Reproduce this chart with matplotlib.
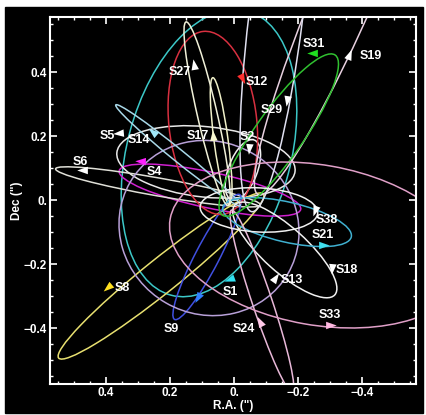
import numpy as np
import matplotlib
matplotlib.use("Agg")
import matplotlib.pyplot as plt
from matplotlib.patches import Ellipse, Rectangle
from matplotlib.path import Path
from matplotlib.markers import MarkerStyle
from matplotlib.transforms import Affine2D

plt.rcParams['font.family'] = ['Liberation Sans', 'DejaVu Sans']

# star names
names = ['S1', 'S2', 'S4', 'S5', 'S6', 'S8', 'S9', 'S12', 'S13', 'S14',
         'S17', 'S18', 'S19', 'S21', 'S24', 'S27', 'S29', 'S31', 'S33', 'S38']

# projected orbit ellipses (arcsec, angle in deg)
ell_ra = [0.078, -0.028, 0.075, 0.0875, 0.2375, 0.228, 0.084, 0.066, 0.078, 0.175,
          0.04, -0.159, -0.375, -0.166, -0.0875, 0.084, -0.131, -0.14, -0.2625, -0.078]
ell_dec = [0.147, 0.094, 0.031, 0.119, 0.041, -0.2375, -0.178, 0.241, -0.0875, 0.14,
           0.184, -0.156, 0.711, -0.069, -0.316, 0.27, 0.575, 0.203, -0.1406, -0.031]
ell_a = [0.46, 0.10, 0.29, 0.28, 0.325, 0.41, 0.22, 0.2875, 0.285, 0.25,
         0.20, 0.21, 0.756, 0.206, 0.30, 0.294, 0.616, 0.306, 0.469, 0.184]
ell_b = [0.256, 0.045, 0.056, 0.11, 0.028, 0.053, 0.0375, 0.1375, 0.27, 0.019,
         0.022, 0.069, 0.094, 0.0625, 0.031, 0.031, 0.084, 0.075, 0.25, 0.069]
ell_ang = [105, 111, 12, 6, 10, 141.3, 117.5, 84, 30, 39,
           82.5, 42, 113.3, 13, 71.5, 77.1, 97, 125.2, 10, 3]

orbit_colors = ['#3cc8c8', '#f0f0f0', '#d020d0', '#e8e8e8', '#e0e0d8', '#e8e070',
                '#4050e0', '#d83040', '#b8a0d8', '#a8d8e8', '#f0f0c8', '#f0f0f0',
                '#e8d0e0', '#40b0d0', '#e8b8d8', '#f0f0d8', '#e0e0f0', '#30c030',
                '#e0a0c8', '#f0f0f0']

# direction arrows on the orbits
arrow_ra = [0.0125, -0.047, 0.291, 0.359, 0.472, 0.394, 0.1125, -0.025, -0.128, 0.253,
            0.066, -0.306, -0.359, -0.278, -0.081, 0.125, -0.166, -0.247, -0.30, -0.253]
arrow_dec = [-0.247, 0.1625, 0.122, 0.209, 0.094, -0.272, -0.303, 0.381, -0.244, 0.2125,
             0.20, -0.2125, 0.453, -0.141, -0.381, 0.422, 0.3125, 0.459, -0.391, -0.031]
arrow_dir = [200, -95, 178, 185, 180, 220, 240, -64, 55, 140,
             95, -95, 68, 0, 117, 100, -99, 180, 0, -110]
arrow_colors = ['#30e0f0', 'white', '#ff20ff', 'white', 'white', '#ffe020',
                '#3080ff', '#ff3030', 'white', '#a0e8f8', '#f8f8d0', 'white',
                'white', '#40e0f0', '#ffc8e8', 'white', 'white', '#20e020',
                '#ffb8e0', 'white']

# label positions
label_ra = [0.0125, -0.041, 0.25, 0.397, 0.481, 0.35, 0.197, -0.072, -0.181, 0.297,
            0.1125, -0.353, -0.428, -0.278, -0.031, 0.169, -0.119, -0.25, -0.30, -0.291]
label_dec = [-0.2875, 0.197, 0.0875, 0.20, 0.119, -0.275, -0.403, 0.369, -0.25, 0.1875,
             0.20, -0.219, 0.45, -0.109, -0.403, 0.40, 0.281, 0.4875, -0.359, -0.0625]

tick_vals = [0.4, 0.2, 0.0, -0.2, -0.4]
tick_text = ['0.4', '0.2', '0.', '\u22120.2', '\u22120.4']

fig = plt.figure(figsize=(4.27, 4.15), dpi=100, facecolor='white')
fig.patches.append(Rectangle((5 / 427, 2 / 415), 418 / 427, 406 / 415,
                             transform=fig.transFigure, color='black', zorder=-5))
ax = fig.add_axes([50 / 427, 1 - 384 / 415, 366 / 427, 367 / 415])
ax.set_facecolor('black')

for i in range(len(names)):
    e = Ellipse((ell_ra[i], ell_dec[i]), 2 * ell_a[i], 2 * ell_b[i], angle=ell_ang[i],
                fill=False, edgecolor=orbit_colors[i], lw=1.1, zorder=2)
    ax.add_patch(e)

# arrowhead shape pointing right
head = Path([(1.0, 0.0), (-0.7, 0.6), (-0.7, -0.6), (1.0, 0.0)],
            [Path.MOVETO, Path.LINETO, Path.LINETO, Path.CLOSEPOLY])
for i in range(len(names)):
    m = MarkerStyle(head, transform=Affine2D().rotate_deg(arrow_dir[i]))
    ax.plot(arrow_ra[i], arrow_dec[i], marker=m, markersize=9, color=arrow_colors[i],
            markeredgewidth=0, linestyle='none', zorder=4)
    ax.text(label_ra[i], label_dec[i], names[i], color='white', fontsize=9,
            fontweight='bold', ha='center', va='center', zorder=5)

ax.set_xlim(0.575, -0.569)
ax.set_ylim(-0.575, 0.572)

ax.set_xticks(tick_vals)
ax.set_xticklabels(tick_text)
ax.set_yticks(tick_vals)
ax.set_yticklabels(tick_text)
ax.set_xticks(np.arange(-0.55, 0.56, 0.05), minor=True)
ax.set_yticks(np.arange(-0.55, 0.56, 0.05), minor=True)
ax.tick_params(which='both', direction='in', colors='white', top=True, right=True)
ax.tick_params(which='major', length=5, width=1.2, labelsize=8.5, pad=2)
ax.tick_params(which='minor', length=2.5, width=1.0)
for lab in ax.get_xticklabels() + ax.get_yticklabels():
    lab.set_fontweight('bold')
for sp in ax.spines.values():
    sp.set_color('white')
    sp.set_linewidth(1.5)

ax.set_xlabel('R.A. (")', color='white', fontsize=8.5, fontweight='bold', labelpad=1)
ax.set_ylabel('Dec (")', color='white', fontsize=8.5, fontweight='bold', labelpad=1)

fig.savefig('out.png', dpi=100, facecolor=fig.get_facecolor())
